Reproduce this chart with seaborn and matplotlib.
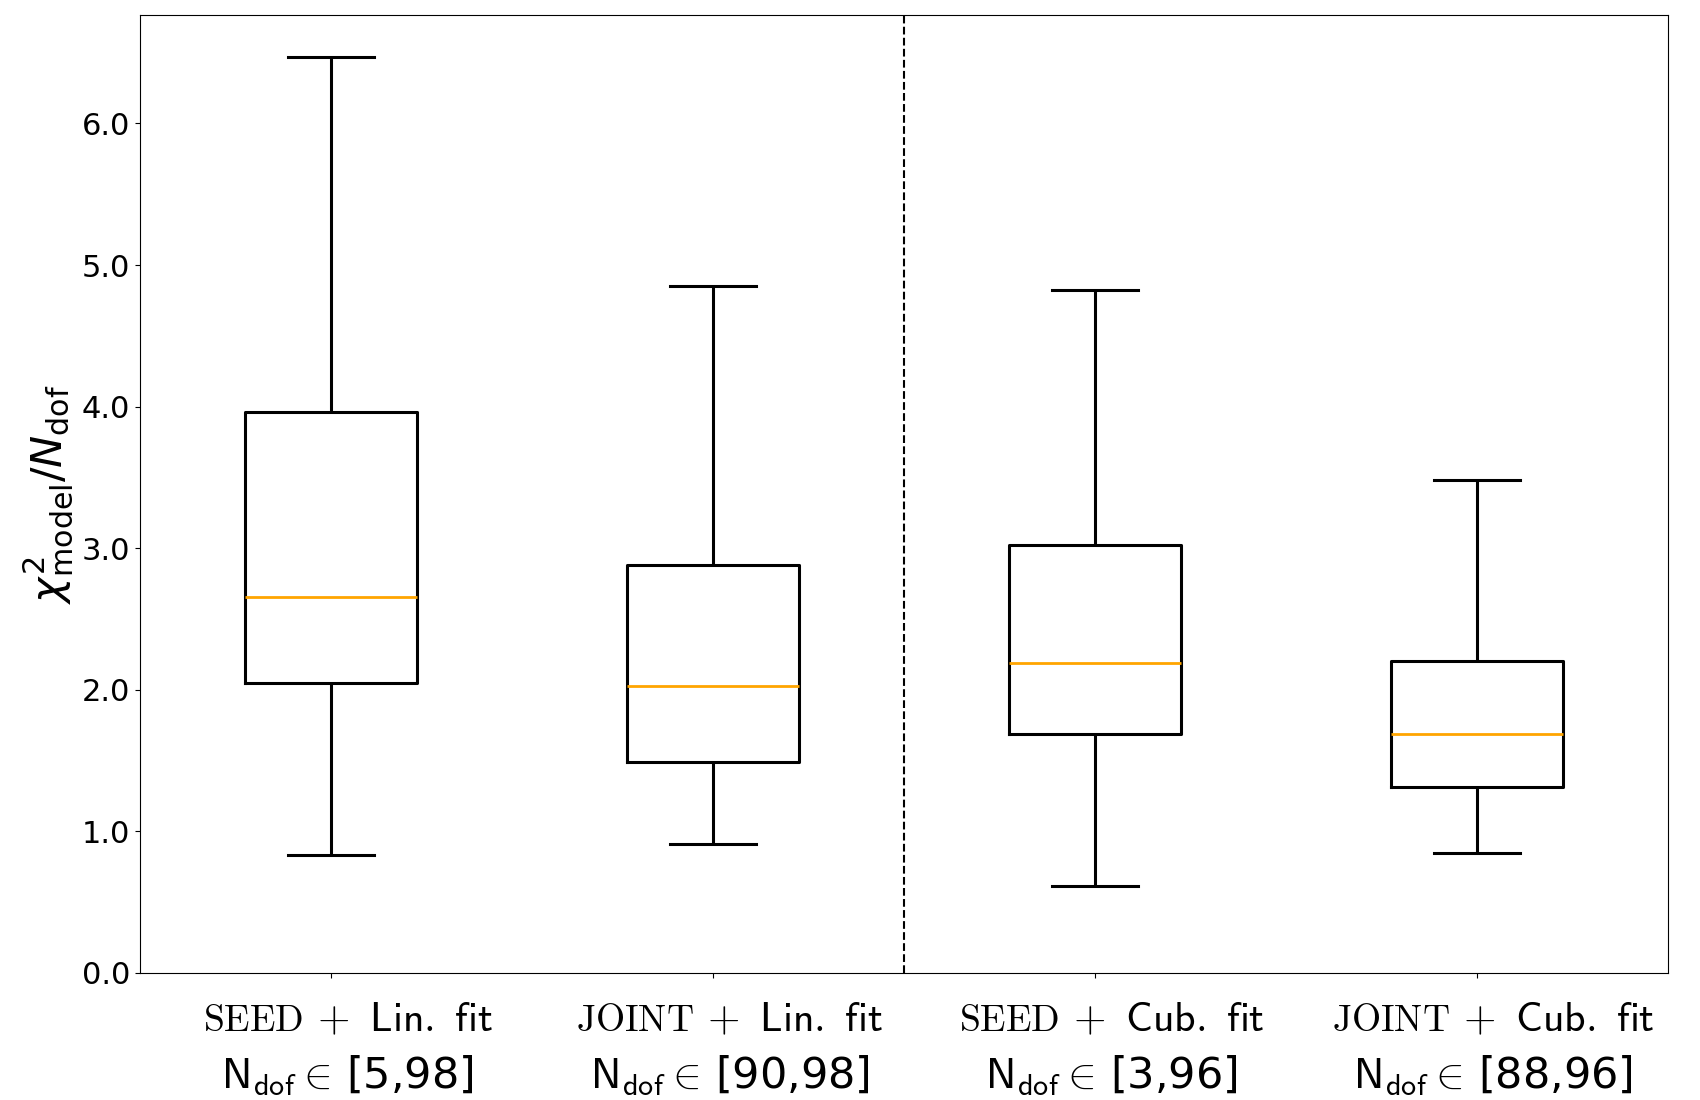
import pandas as pd
import matplotlib.pyplot as plt
import seaborn as sns
from matplotlib.ticker import FormatStrFormatter
from matplotlib.offsetbox import TextArea, HPacker, VPacker, AnnotationBbox

# Five-number summaries (min, Q1, median, Q3, max)
seed_lin = [0.835, 2.047, 2.654, 3.96, 6.47]
joint_lin = [0.912, 1.487, 2.03, 2.88, 4.85]
seed_cub = [0.613, 1.686, 2.19, 3.02, 4.82]
joint_cub = [0.85, 1.31, 1.686, 2.20, 3.48]

groups = ["seed_lin", "joint_lin", "seed_cub", "joint_cub"]
methods = ["SEED", "JOINT", "SEED", "JOINT"]
fits = ["Lin.", "Lin.", "Cub.", "Cub."]
dof_ranges = ["[5,98]", "[90,98]", "[3,96]", "[88,96]"]

# Build long-form table
df = pd.DataFrame({
    "group": [g for g, vals in zip(groups, [seed_lin, joint_lin, seed_cub, joint_cub]) for _ in vals],
    "value": seed_lin + joint_lin + seed_cub + joint_cub,
})

fig, ax = plt.subplots(figsize=(17, 11), dpi=100)
fig.subplots_adjust(left=0.0824, right=0.981, top=0.986, bottom=0.1155)

sns.boxplot(
    data=df,
    x="group",
    y="value",
    order=groups,
    whis=(0, 100),
    width=0.45,
    fill=False,
    color="black",
    linewidth=2.2,
    showfliers=False,
    medianprops={"color": "orange", "linewidth": 2.0},
    ax=ax,
)

# Separator between linear and cubic fits
ax.axvline(1.5, color="black", linestyle="--", linewidth=1.5)

ax.set_ylim(bottom=0)
ax.set_xlim(-0.5, 3.5)
ax.yaxis.set_major_formatter(FormatStrFormatter("%.1f"))
ax.tick_params(axis="y", labelsize=22)

# -----------------------------
# Two-line category labels (small-caps method name + fit, dof range)
# -----------------------------
ax.set_xticks(range(4))
ax.set_xticklabels([""] * 4)

cm_small = dict(fontsize=27, math_fontfamily="cm")
cm_big = dict(fontsize=30, math_fontfamily="cm")
sans_big = dict(fontsize=31, family="DejaVu Sans", math_fontfamily="cm")

for i, (m, f, d) in enumerate(zip(methods, fits, dof_ranges)):
    line1 = HPacker(
        children=[
            TextArea(r"$\mathrm{%s}$" % m, textprops=cm_small),
            TextArea(r"$+\;\;\mathsf{%s\ fit}$" % f, textprops=cm_big),
        ],
        align="baseline", pad=0, sep=10,
    )
    line2 = TextArea(r"$\mathsf{N}_{\mathsf{dof}} \in\,$" + d, textprops=sans_big)
    block = VPacker(children=[line1, line2], align="center", pad=0, sep=10)
    ab = AnnotationBbox(
        block, (i, 0), xycoords=ax.get_xaxis_transform(),
        xybox=(12, -18), boxcoords="offset points",
        box_alignment=(0.5, 1.0), frameon=False, pad=0,
        annotation_clip=False,
    )
    ax.add_artist(ab)

ax.set_xlabel("")
ax.set_ylabel(r"$\chi^2_{\mathrm{model}}/N_{\mathrm{dof}}$", fontsize=31)

plt.savefig("out.png", dpi=100)
